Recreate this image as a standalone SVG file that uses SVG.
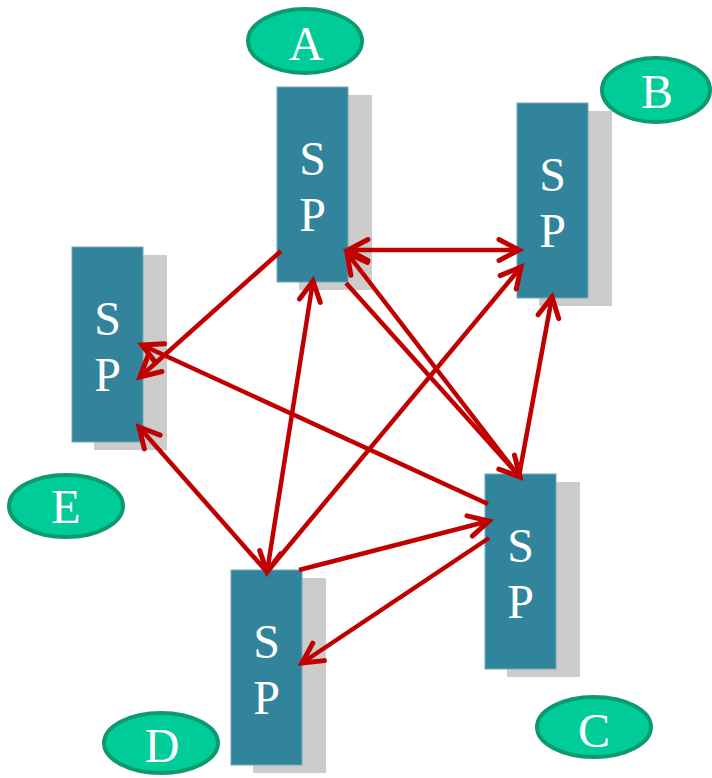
<svg xmlns="http://www.w3.org/2000/svg" width="712" height="778" viewBox="0 0 712 778">
<style>
.shadow{fill:#CCCCCC}
.box{fill:#31849B;stroke:#6FA9B8;stroke-width:1}
.sp{font-family:"Liberation Serif","Times New Roman",serif;font-size:48px;fill:#FFFFFF;text-anchor:middle}
.ell{fill:#00CC99;stroke:#0E9A70;stroke-width:4}
.lbl{font-family:"Liberation Serif","Times New Roman",serif;font-size:48px;fill:#FFFFFF;text-anchor:middle}
.arr{stroke:#C00000;stroke-width:4.5;fill:none}
</style>
<defs>
<marker id="ah" markerUnits="userSpaceOnUse" markerWidth="40" markerHeight="40" viewBox="-30 -20 40 40" refX="0" refY="0" orient="auto-start-reverse">
<path d="M-20,-10.5 L0,0 L-20,10.5" fill="none" stroke="#C00000" stroke-width="5" stroke-linecap="round" stroke-linejoin="miter"/>
</marker>
</defs>
<g id="nodeA">
<ellipse class="ell" cx="305" cy="41" rx="57" ry="32"/>
<text class="lbl" x="306" y="60">A</text>
<rect class="shadow" x="299" y="95" width="73" height="195"/>
<rect class="box" x="277" y="87" width="71" height="195"/>
<text class="sp" x="312.5" y="175">S</text>
<text class="sp" x="312.5" y="231">P</text>
</g>
<g id="nodeB">
<ellipse class="ell" cx="656" cy="90" rx="54" ry="32"/>
<text class="lbl" x="657" y="108">B</text>
<rect class="shadow" x="539" y="111" width="73" height="195"/>
<rect class="box" x="517" y="103" width="71" height="195"/>
<text class="sp" x="552.5" y="191">S</text>
<text class="sp" x="552.5" y="247">P</text>
</g>
<g id="nodeC">
<ellipse class="ell" cx="594" cy="727" rx="57" ry="30"/>
<text class="lbl" x="594" y="747">C</text>
<rect class="shadow" x="507" y="482" width="73" height="195"/>
<rect class="box" x="485" y="474" width="71" height="195"/>
<text class="sp" x="520.5" y="562">S</text>
<text class="sp" x="520.5" y="618">P</text>
</g>
<g id="nodeD">
<ellipse class="ell" cx="161" cy="743" rx="57" ry="30"/>
<text class="lbl" x="162" y="762">D</text>
<rect class="shadow" x="253" y="578" width="73" height="195"/>
<rect class="box" x="231" y="570" width="71" height="195"/>
<text class="sp" x="266.5" y="658">S</text>
<text class="sp" x="266.5" y="714">P</text>
</g>
<g id="nodeE">
<ellipse class="ell" cx="66" cy="506" rx="57" ry="31"/>
<text class="lbl" x="66" y="523">E</text>
<rect class="shadow" x="94" y="255" width="73" height="195"/>
<rect class="box" x="72" y="247" width="71" height="195"/>
<text class="sp" x="107.5" y="335">S</text>
<text class="sp" x="107.5" y="391">P</text>
</g>
<g id="connectors">
<line class="arr" x1="348" y1="250" x2="519" y2="250" marker-start="url(#ah)" marker-end="url(#ah)"/>
<line class="arr" x1="281" y1="251" x2="140" y2="377" marker-end="url(#ah)"/>
<line class="arr" x1="488" y1="504" x2="142" y2="345" marker-end="url(#ah)"/>
<line class="arr" x1="267" y1="572" x2="139" y2="427" marker-end="url(#ah)"/>
<line class="arr" x1="313" y1="281" x2="267" y2="572" marker-start="url(#ah)" marker-end="url(#ah)"/>
<line class="arr" x1="267" y1="572" x2="521" y2="267" marker-end="url(#ah)"/>
<line class="arr" x1="519" y1="476" x2="552" y2="297" marker-end="url(#ah)"/>
<line class="arr" x1="346" y1="283" x2="520" y2="477" marker-end="url(#ah)"/>
<line class="arr" x1="518" y1="475" x2="347" y2="253" marker-end="url(#ah)"/>
<line class="arr" x1="299" y1="570" x2="489" y2="521" marker-end="url(#ah)"/>
<line class="arr" x1="489" y1="538" x2="302" y2="663" marker-end="url(#ah)"/>
</g>
</svg>
